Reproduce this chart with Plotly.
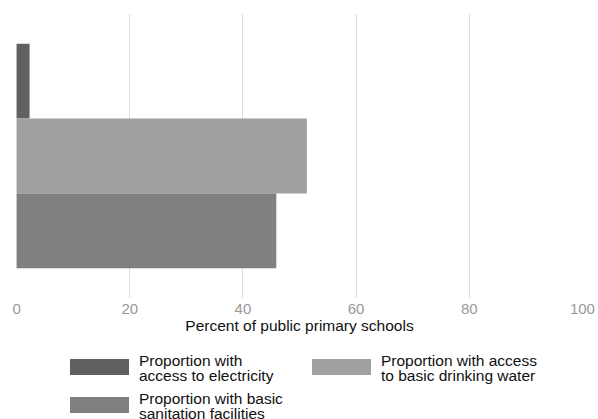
import plotly.graph_objects as go

# ---- data ----
category = ["Public primary schools"]
series_names = [
    "Proportion with<br>access to electricity",
    "Proportion with access<br>to basic drinking water",
    "Proportion with basic<br>sanitation facilities",
]
series_values = [2.3, 51.3, 45.9]
series_colors = ["#606060", "#a0a0a0", "#808080"]
x_tick_values = [0, 20, 40, 60, 80, 100]
x_tick_labels = ["0", "20", "40", "60", "80", "100"]
x_title = "Percent of public primary schools"

W, H = 598, 419
ML, MR, MT, MB = 16, 15, 14, 121
PW, PH = W - ML - MR, H - MT - MB
FONT = "Liberation Sans, Arial, Helvetica, sans-serif"


def px(x):
    return (x - ML) / PW


def py(y):
    return (H - MB - y) / PH


fig = go.Figure()
for name, val, col in zip(series_names, series_values, series_colors):
    fig.add_trace(go.Bar(
        y=category, x=[val], name=name.replace("<br>", " "), orientation="h",
        marker=dict(color=col, line=dict(width=0)), showlegend=False,
    ))

# custom legend (wide swatches, tight line spacing)
legend_pos = [(70, 359), (312, 359), (70, 397)]  # swatch left/top in px
for (sx, sy), name, col in zip(legend_pos, series_names, series_colors):
    fig.add_shape(type="rect", xref="paper", yref="paper",
                  x0=px(sx), x1=px(sx + 59), y0=py(sy), y1=py(sy + 16),
                  fillcolor=col, line=dict(width=0), layer="above")
    for i, line in enumerate(name.split("<br>")):
        fig.add_annotation(xref="paper", yref="paper", x=px(sx + 67), y=py(sy + 1.5 + 15 * i),
                           text=line, showarrow=False, xanchor="left", yanchor="middle",
                           font=dict(family=FONT, size=15.5, color="#111111"))

fig.update_layout(
    width=W, height=H,
    margin=dict(l=ML, r=MR, t=MT, b=MB, pad=0, autoexpand=False),
    paper_bgcolor="white", plot_bgcolor="white",
    barmode="group", bargap=0.21, bargroupgap=0,
    showlegend=False,
    font=dict(family=FONT, size=15, color="#111111"),
    xaxis=dict(
        range=[-0.1, 100.1], tickvals=x_tick_values, ticktext=x_tick_labels,
        showgrid=True, gridcolor="#dcdcdc", gridwidth=1, zeroline=False, showline=False,
        ticks="", automargin=False,
        tickfont=dict(family=FONT, size=15, color="#999999"),
        title=dict(text=x_title, font=dict(family=FONT, size=15.5, color="#111111"), standoff=0),
    ),
    yaxis=dict(autorange="reversed", showticklabels=False, showgrid=False, automargin=False,
               zeroline=False, showline=False, ticks=""),
)

fig.write_html("out.html", config={"displayModeBar": False},
               post_script="document.body.style.margin='0px';")
